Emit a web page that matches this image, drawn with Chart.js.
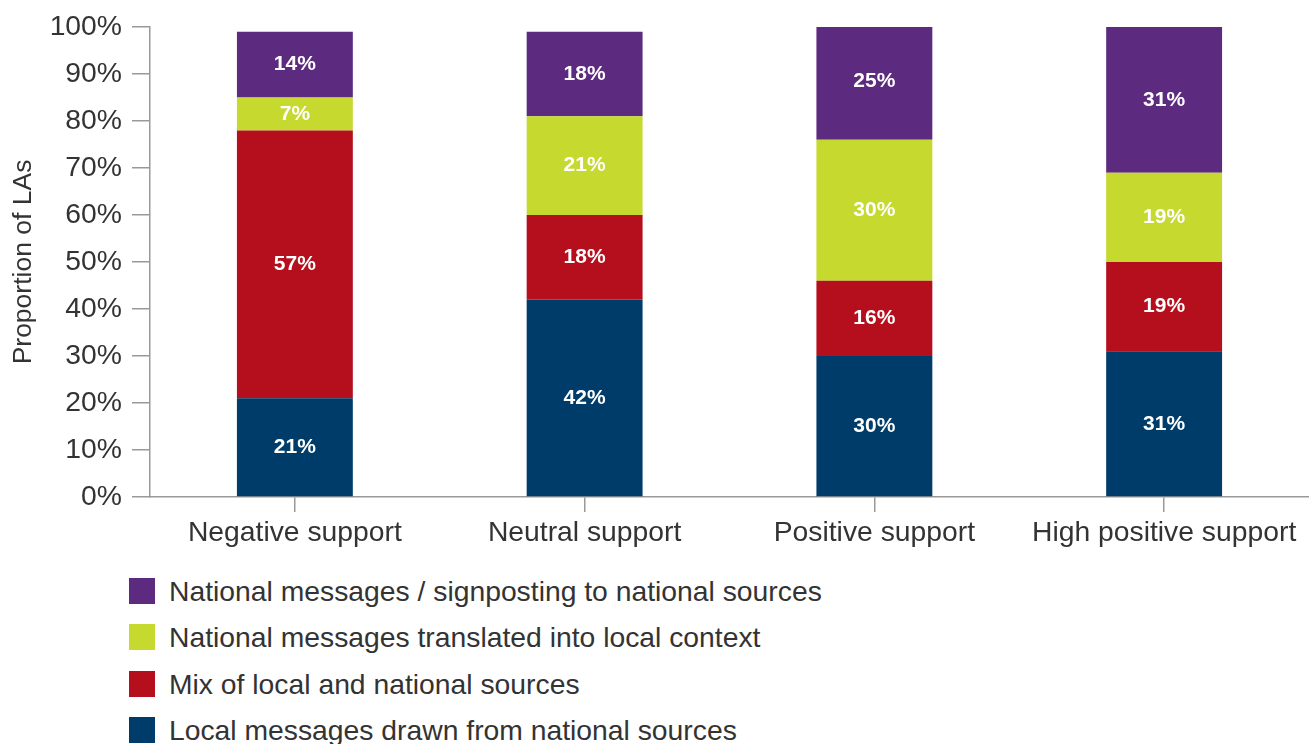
<!DOCTYPE html>
<html>
<head>
<meta charset="utf-8">
<script src="https://cdn.jsdelivr.net/npm/chart.js@4"></script>
<style>
  html, body { margin: 0; padding: 0; background: #fff; }
  #wrap { position: relative; width: 1309px; height: 744px; overflow: hidden; }
  #chart-box { position: absolute; left: 0; top: 0; width: 1309px; height: 570px; }
  #legend { position: absolute; left: 129px; top: 578px; font-family: "Liberation Sans", Arial, sans-serif; font-size: 28.3px; color: #333; }
  .leg-item { position: relative; height: 46.3px; white-space: nowrap; }
  .leg-box { position: absolute; left: 0; top: 0; width: 26px; height: 26px; }
  .leg-text { position: absolute; left: 40px; top: -3px; line-height: 32px; }
</style>
</head>
<body>
<div id="wrap">
  <div id="chart-box"><canvas id="grafica"></canvas></div>
  <div id="legend"></div>
</div>
<script>
const categorias = ['Negative support', 'Neutral support', 'Positive support', 'High positive support'];

const serieLocal = [21, 42, 30, 31];
const serieMixta = [57, 18, 16, 19];
const serieTraducida = [7, 21, 30, 19];
const serieNacional = [14, 18, 25, 31];

const etiquetasY = ['0%', '10%', '20%', '30%', '40%', '50%', '60%', '70%', '80%', '90%', '100%'];

const fuente = '"Liberation Sans", Arial, sans-serif';
const gris = '#333333';
const lineaEje = '#999999';

// etiquetas blancas centradas en cada segmento
const etiquetasBarras = {
    id: 'etiquetasBarras',
    afterDatasetsDraw(chart) {
        const ctx = chart.ctx;
        ctx.save();
        ctx.beginPath();
        ctx.rect(chart.chartArea.left, chart.chartArea.top, chart.chartArea.right - chart.chartArea.left, chart.chartArea.bottom - chart.chartArea.top);
        ctx.clip();
        ctx.fillStyle = '#ffffff';
        ctx.font = 'bold 21px ' + fuente;
        ctx.textAlign = 'center';
        ctx.textBaseline = 'middle';
        chart.data.datasets.forEach((ds, i) => {
            chart.getDatasetMeta(i).data.forEach((bar, j) => {
                const yMid = (bar.y + bar.base) / 2;
                ctx.fillText(ds.data[j] + '%', bar.x, yMid);
            });
        });
        ctx.restore();
    }
};

const ctx = document.getElementById('grafica').getContext('2d');

const grafica = new Chart(ctx, {
    type: 'bar',
    data: {
        labels: categorias,
        datasets: [
            { label: 'Local messages drawn from national sources', data: serieLocal, backgroundColor: '#003c69' },
            { label: 'Mix of local and national sources', data: serieMixta, backgroundColor: '#b50e1d' },
            { label: 'National messages translated into local context', data: serieTraducida, backgroundColor: '#c5d92e' },
            { label: 'National messages / signposting to national sources', data: serieNacional, backgroundColor: '#5c2a7e' }
        ]
    },
    options: {
        responsive: true,
        maintainAspectRatio: false,
        animation: false,
        layout: { padding: { top: 12, right: 0, left: 0, bottom: 0 } },
        datasets: { bar: { barPercentage: 0.4, categoryPercentage: 1.0 } },
        plugins: {
            legend: { display: false },
            tooltip: { enabled: false }
        },
        scales: {
            x: {
                stacked: true,
                grid: { display: true, offset: false, drawOnChartArea: false, drawTicks: true, tickLength: 15, color: lineaEje, lineWidth: 1.5 },
                border: { color: lineaEje, width: 1.5 },
                ticks: { color: gris, font: { family: fuente, size: 28.3 }, padding: 4, maxRotation: 0 },
                afterFit(scale) { scale.height = 73; }
            },
            y: {
                stacked: true,
                min: 0,
                max: 100,
                grid: { display: true, drawOnChartArea: false, drawTicks: true, tickLength: 18, color: lineaEje, lineWidth: 1.5 },
                border: { color: lineaEje, width: 1.5 },
                ticks: {
                    stepSize: 10,
                    color: gris,
                    font: { family: fuente, size: 28.3 },
                    padding: 10,
                    callback: (v) => etiquetasY[Math.round(v / 10)]
                },
                title: { display: true, text: 'Proportion of LAs', color: gris, font: { family: fuente, size: 26.5 }, padding: { top: 8, bottom: 0 } },
                afterFit(scale) { scale.width = 150; }
            }
        }
    },
    plugins: [etiquetasBarras]
});

// leyenda en orden inverso, como se apilan los colores
const leyenda = document.getElementById('legend');
grafica.data.datasets.slice().reverse().forEach(ds => {
    const item = document.createElement('div');
    item.className = 'leg-item';
    item.innerHTML = `<span class="leg-box" style="background:${ds.backgroundColor}"></span><span class="leg-text">${ds.label}</span>`;
    leyenda.appendChild(item);
});
</script>
</body>
</html>
